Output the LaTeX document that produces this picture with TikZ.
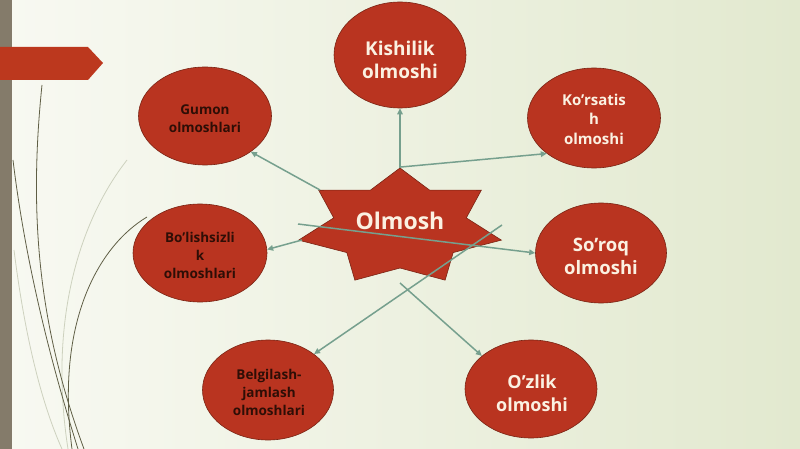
\documentclass[tikz,border=0pt]{standalone}
\usepackage{fontspec}
\setmainfont{Open Sans}
\usetikzlibrary{arrows.meta,shapes.geometric}
\definecolor{bgL}{HTML}{F8F9F2}
\definecolor{bgR}{HTML}{E2E9CF}
\definecolor{strip}{HTML}{847B6A}
\definecolor{redA}{HTML}{B93420}
\definecolor{edgeR}{HTML}{7A2414}
\definecolor{cream}{HTML}{FBF1E2}
\definecolor{darkT}{HTML}{2E0E06}
\definecolor{lineC}{HTML}{76A08E}
\definecolor{olive}{HTML}{5F5E45}
\definecolor{faint}{HTML}{CDD1BE}
\begin{document}
\begin{tikzpicture}[x=1pt,y=-1pt,
  ell/.style={ellipse, draw=edgeR, line width=0.6pt, fill=redA, inner sep=0pt},
  wtext/.style={text=cream, align=center, inner sep=0pt},
  dtext/.style={text=darkT, align=center, inner sep=0pt, font=\bfseries\fontsize{13.5}{18}\selectfont},
  conn/.style={draw=lineC, line width=1.5pt, -{Triangle[length=6pt,width=5.5pt]}},
  curve/.style={draw=olive, line width=0.8pt},
  fcurve/.style={draw=faint, line width=0.8pt}]
\useasboundingbox (0,0) rectangle (800,449);
% background
\shade[left color=bgL, right color=bgR] (0,0) rectangle (800,449);
\fill[strip] (0,0) rectangle (12,449);
% decorative curves
\path[fcurve] (127,160) .. controls (80,220) and (48,320) .. (68,449);
\path[fcurve] (14,250) .. controls (24,330) and (40,400) .. (62,449);
\path[curve] (42,85) .. controls (28,220) and (40,330) .. (84,449);
\path[curve] (13,160) .. controls (25,260) and (50,360) .. (78,449);
\path[curve] (147,217) .. controls (100,245) and (55,320) .. (72,449);
% banner
\fill[redA!95!orange] (0,47) -- (88,47) -- (103,63) -- (88,80) -- (0,80) -- cycle;
% star
\filldraw[fill=redA, draw=edgeR, line width=0.6pt] (400,168)
  \foreach \k in {0,...,6}{
    -- ({400+68*cos(115.714+\k*51.4286)},{227-41*sin(115.714+\k*51.4286)})
    -- ({400+104*cos(90+(\k+1)*51.4286)},{227-59*sin(90+(\k+1)*51.4286)})
  } -- cycle;
\node[wtext, font=\bfseries\fontsize{23}{28}\selectfont] (olmosh) at (400,221) {Olmosh};
% ellipses
\node[ell, minimum width=132pt, minimum height=106pt] (kish) at (400,55) {};
\node[ell, minimum width=133pt, minimum height=98pt] (gum) at (205,116) {};
\node[ell, minimum width=133pt, minimum height=100pt] (kor) at (594,118) {};
\node[ell, minimum width=134pt, minimum height=98pt] (bol) at (200,253) {};
\node[ell, minimum width=131pt, minimum height=100pt] (sor) at (601,253) {};
\node[ell, minimum width=131pt, minimum height=100pt] (bel) at (268,390) {};
\node[ell, minimum width=132pt, minimum height=98pt] (ozl) at (531,389) {};
% texts
\node[wtext, font=\bfseries\fontsize{19}{23.5}\selectfont] (kisht) at (400,60) {Kishilik\\olmoshi};
\node[dtext] (gumt) at (205,119) {Gumon\\olmoshlari};
\node[wtext, font=\bfseries\fontsize{15}{19.5}\selectfont] (kort) at (594,119) {Ko’rsatis\\h\\olmoshi};
\node[dtext] (bolt) at (200,255) {Bo’lishsizli\\k\\olmoshlari};
\node[wtext, font=\bfseries\fontsize{18.5}{23}\selectfont] (sort) at (601,256) {So’roq\\olmoshi};
\node[dtext] (belt) at (269,392) {Belgilash-\\jamlash\\olmoshlari};
\node[wtext, font=\bfseries\fontsize{18}{23}\selectfont] (ozlt) at (532,393) {O’zlik\\olmoshi};
% connector start points
\coordinate (sTop) at (400,168);
\coordinate (sTop2) at (401,167);
\coordinate (sUL) at (320,190);
\coordinate (sL) at (302,240);
\coordinate (sCrossA) at (298,224);
\coordinate (sCrossB) at (502,225);
\coordinate (sBot) at (400,283);
% connectors
\draw[conn] (sTop) -- (kish.south);
\draw[conn] (sTop2) -- (kor.217);
\draw[conn] (sUL) -- (gum.-38);
\draw[conn] (sL) -- (bol.3);
\draw[conn] (sCrossA) -- (sor.west);
\draw[conn] (sCrossB) -- (bel.38);
\draw[conn] (sBot) -- (ozl.146);
\end{tikzpicture}
\end{document}
